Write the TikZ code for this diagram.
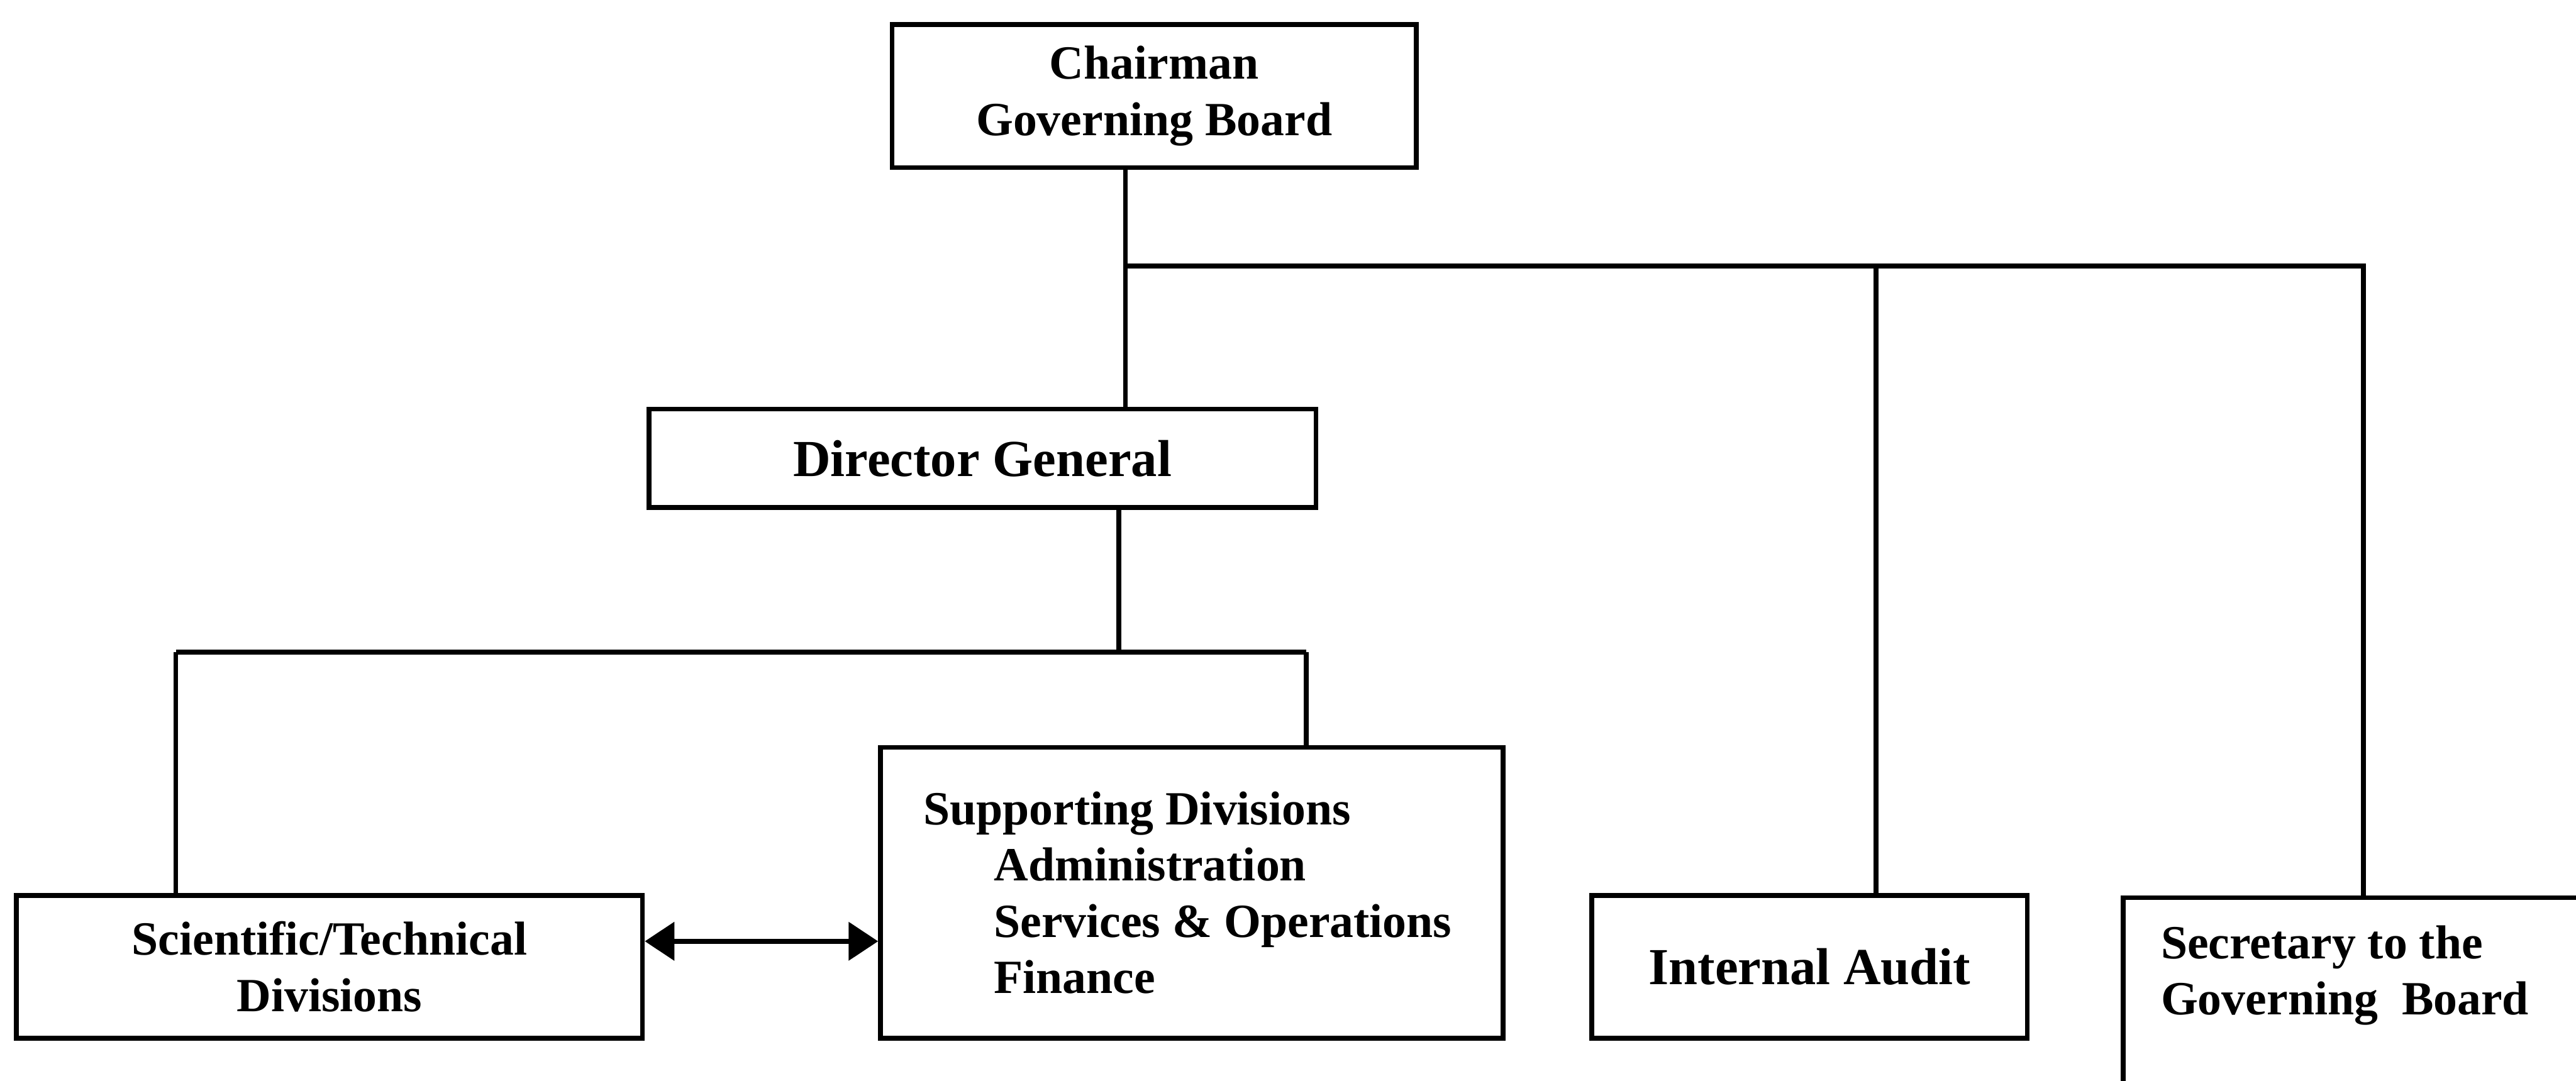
\documentclass[tikz,border=0pt]{standalone}
\usepackage{fontspec}
\setmainfont{Liberation Serif}
\usetikzlibrary{positioning,calc,arrows.meta}

\begin{document}
\begin{tikzpicture}[x=0.2mm,y=-0.2mm]
\tikzstyle{box}=[draw,line width=1.7pt,shape=rectangle,inner sep=0pt,font=\fontsize{16.5}{19.5}\selectfont\bfseries]
\tikzstyle{bigbox}=[box,font=\fontsize{18}{21}\selectfont\bfseries]
\tikzstyle{link}=[line width=1.7pt]
\tikzstyle{biarrow}=[line width=1.7pt,{Triangle[length=3.6mm,width=4.6mm]}-{Triangle[length=3.6mm,width=4.6mm]}]

\useasboundingbox (0,0) rectangle (1568,658);
\clip (0,0) rectangle (1568,658);

\node[box,align=center,minimum width=63.8mm,minimum height=17.4mm] (chair) at (702.5,58.5) {Chairman\\Governing Board};
\node[bigbox,minimum width=81.2mm,minimum height=12mm] (dg) at (598,279) {Director General};

\node[box,align=center,minimum width=76.2mm,minimum height=17.4mm] (sci) at (200.5,588.5) {Scientific/Technical\\Divisions};
\node[box,align=flush left,text width=65.4mm,inner xsep=5.2mm,minimum height=35.4mm] (sup) at (725.5,543.5)
  {Supporting Divisions\\\hspace*{8.6mm}Administration\\\hspace*{8.6mm}Services \& Operations\\\hspace*{8.6mm}Finance};
\node[bigbox,minimum width=53mm,minimum height=17.4mm] (audit) at (1101.5,588.5) {Internal Audit};
\node[box,anchor=north west,minimum width=58.4mm,minimum height=31mm] (sec) at (1291,545) {};
\node[anchor=north west,align=flush left,inner sep=0pt,font=\fontsize{16.5}{19.5}\selectfont\bfseries] (sectxt) at (1315,563)
  {Secretary to the\\Governing\ \ Board};

% board level
\coordinate (top) at (685,162);
\coordinate (ja) at (1142,162);
\draw[link] (chair.south -| top) -- (dg.north -| top);
\draw[link] (top) -| (sec.north);
\draw[link] (ja) -- (ja |- audit.north);

% divisions
\coordinate (mid) at (681,397);
\coordinate (jl) at (107,397);
\coordinate (jr) at (795,397);
\draw[link] (dg.south -| mid) -- (mid);
\draw[link] (jl) -- (jr);
\draw[link] (jl) -- (jl |- sci.north);
\draw[link] (jr) -- (jr |- sup.north);

\coordinate (arr) at (0,573);
\draw[biarrow] (sci.east |- arr) -- (sup.west |- arr);

\end{tikzpicture}
\end{document}
